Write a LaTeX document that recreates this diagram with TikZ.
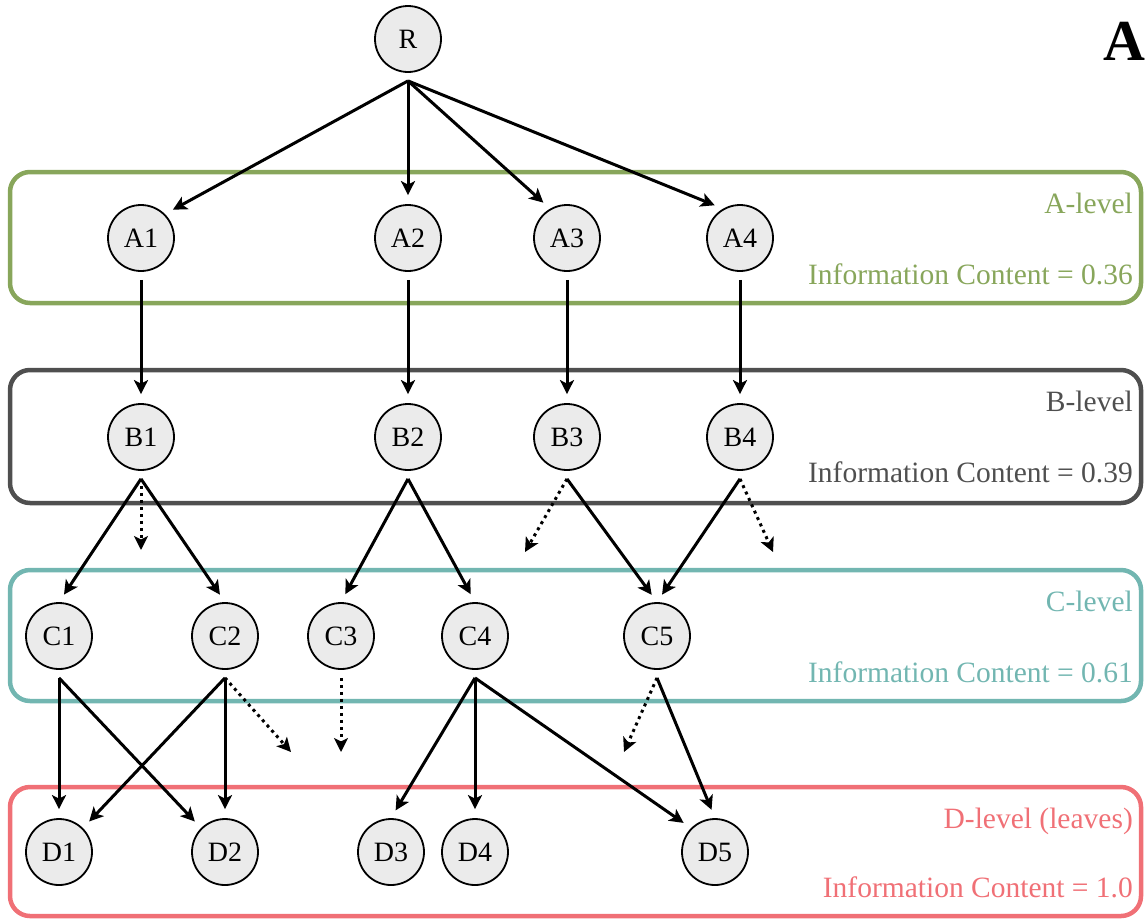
\documentclass[tikz,border=0pt]{standalone}
\usepackage{fontspec}
\setmainfont{Liberation Serif}
\usetikzlibrary{arrows.meta,calc}
\definecolor{lvA}{HTML}{88A65B}
\definecolor{lvB}{HTML}{4F4F4F}
\definecolor{lvC}{HTML}{72B6B1}
\definecolor{lvD}{HTML}{F07076}
\definecolor{nodefill}{HTML}{EBEBEB}
\begin{document}
\begin{tikzpicture}[x=1pt,y=-1pt,
  tnode/.style={circle,draw=black,line width=1.8pt,fill=nodefill,minimum size=66pt,
    inner sep=0pt,font=\fontsize{28}{32}\selectfont},
  edge/.style={line width=3pt,-{Stealth[length=14pt,width=14pt,inset=3.5pt]},shorten >=9pt},
  hint/.style={line width=3pt,-{Stealth[length=14pt,width=14pt,inset=3.5pt]},
    dash pattern=on 3pt off 4pt},
  lvbox/.style={line width=4.5pt,rounded corners=20pt},
  lvtext/.style={anchor=base east,inner sep=0pt,font=\fontsize{29.5}{34}\selectfont}]
\useasboundingbox (0,0) rectangle (1145,919);

% level frames
\draw[lvbox,lvA] (10,172) rectangle (1141,303);
\draw[lvbox,lvB] (10,370) rectangle (1141,503);
\draw[lvbox,lvC] (10,570) rectangle (1141,701);
\draw[lvbox,lvD] (10,787) rectangle (1141,916);

\node[lvtext,text=lvA] (labA) at (1133,213) {A-level};
\node[lvtext,text=lvA] (icA) at (1133,284) {Information Content = 0.36};
\node[lvtext,text=lvB] (labB) at (1133,411) {B-level};
\node[lvtext,text=lvB] (icB) at (1133,482) {Information Content = 0.39};
\node[lvtext,text=lvC] (labC) at (1133,611) {C-level};
\node[lvtext,text=lvC] (icC) at (1133,682) {Information Content = 0.61};
\node[lvtext,text=lvD] (labD) at (1133,828) {D-level (leaves)};
\node[lvtext,text=lvD] (icD) at (1133,897) {Information Content = 1.0};

\node[anchor=base east,inner sep=0pt,font=\fontsize{58}{62}\selectfont\bfseries] (panel) at (1146,60) {A};

% tree nodes
\node[tnode] (R) at (408,39) {R};
\node[tnode] (A1) at (141,238) {A1};
\node[tnode] (A2) at (408,238) {A2};
\node[tnode] (A3) at (567,238) {A3};
\node[tnode] (A4) at (740,238) {A4};
\node[tnode] (B1) at (141,437) {B1};
\node[tnode] (B2) at (408,437) {B2};
\node[tnode] (B3) at (567,437) {B3};
\node[tnode] (B4) at (740,437) {B4};
\node[tnode] (C1) at (59,636) {C1};
\node[tnode] (C2) at (225,636) {C2};
\node[tnode] (C3) at (341,636) {C3};
\node[tnode] (C4) at (475,636) {C4};
\node[tnode] (C5) at (657,636) {C5};
\node[tnode] (D1) at (59,852) {D1};
\node[tnode] (D2) at (225,852) {D2};
\node[tnode] (D3) at (391,852) {D3};
\node[tnode] (D4) at (475,852) {D4};
\node[tnode] (D5) at (715,852) {D5};

% departure points just below each parent
\foreach \n in {R,A1,A2,A3,A4,B1,B2,B3,B4,C1,C2,C3,C4,C5}
  \coordinate (\n-out) at ($(\n.south)+(0,8)$);

% ends of the unexpanded (dotted) branches
\coordinate (B1-x) at (141,550);
\coordinate (B3-x) at (525,552);
\coordinate (B4-x) at (773,552);
\coordinate (C2-x) at (291,752);
\coordinate (C3-x) at (341,752);
\coordinate (C5-x) at (624,752);

% solid edges
\draw[edge] (R-out) -- (A1.45);
\draw[edge] (R-out) -- (A2);
\draw[edge] (R-out) -- (A3.120);
\draw[edge] (R-out) -- (A4.120);
\foreach \i in {1,2,3,4} \draw[edge] (A\i-out) -- (B\i);
\draw[edge] (B1-out) -- (C1.north);
\draw[edge] (B1-out) -- (C2.north);
\draw[edge] (B2-out) -- (C3.north);
\draw[edge] (B2-out) -- (C4.north);
\draw[edge] (B3-out) -- (C5.north);
\draw[edge] (B4-out) -- (C5.north);
\draw[edge] (C1-out) -- (D1.north);
\draw[edge] (C1-out) -- (D2.north west);
\draw[edge] (C2-out) -- (D1.north east);
\draw[edge] (C2-out) -- (D2.north);
\draw[edge] (C4-out) -- (D3.north);
\draw[edge] (C4-out) -- (D4.north);
\draw[edge] (C4-out) -- (D5.north west);
\draw[edge] (C5-out) -- (D5.north);

% dotted edges
\draw[hint] (B1-out) -- (B1-x);
\draw[hint] (B3-out) -- (B3-x);
\draw[hint] (B4-out) -- (B4-x);
\draw[hint] (C2-out) -- (C2-x);
\draw[hint] (C3-out) -- (C3-x);
\draw[hint] (C5-out) -- (C5-x);
\end{tikzpicture}
\end{document}
